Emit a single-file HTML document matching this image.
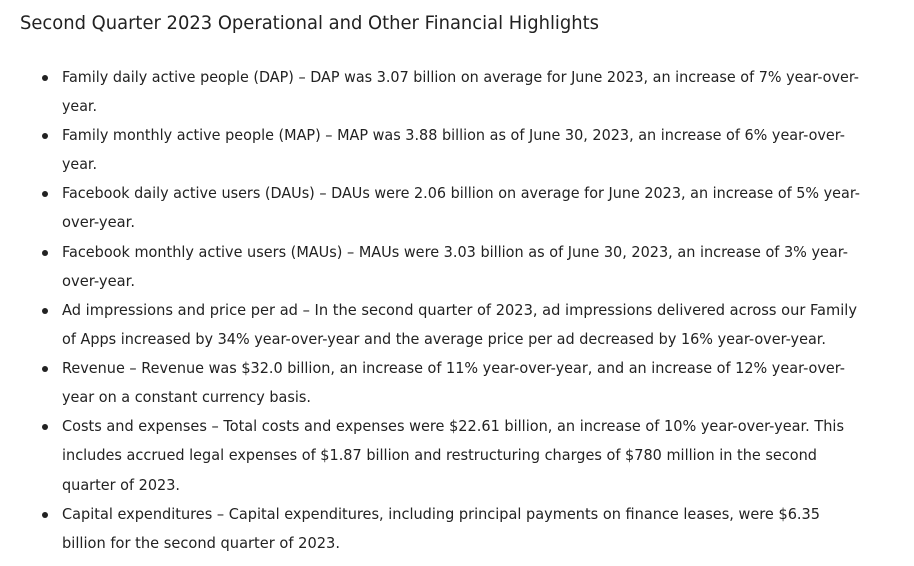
<!DOCTYPE html>
<html><head><meta charset="utf-8"><style>
html,body{margin:0;padding:0;background:#fff;width:914px;height:566px;overflow:hidden}
svg text{font-family:"DejaVu Sans","Liberation Sans",sans-serif;fill:#222}
</style></head><body>
<svg width="914" height="566" xmlns="http://www.w3.org/2000/svg">
<text x="20" y="29" font-size="19" textLength="579" lengthAdjust="spacingAndGlyphs">Second Quarter 2023 Operational and Other Financial Highlights</text>
<g font-size="15">
<g fill="#222">
<circle cx="45" cy="78" r="3"/><circle cx="45" cy="136" r="3"/><circle cx="45" cy="194" r="3"/><circle cx="45" cy="253" r="3"/>
<circle cx="45" cy="311" r="3"/><circle cx="45" cy="369" r="3"/><circle cx="45" cy="427" r="3"/><circle cx="45" cy="515" r="3"/>
</g>
<text x="62" y="82" textLength="797" lengthAdjust="spacingAndGlyphs">Family daily active people (DAP) – DAP was 3.07 billion on average for June 2023, an increase of 7% year-over-</text>
<text x="62" y="111" textLength="35" lengthAdjust="spacingAndGlyphs">year.</text>
<text x="62" y="140" textLength="783" lengthAdjust="spacingAndGlyphs">Family monthly active people (MAP) – MAP was 3.88 billion as of June 30, 2023, an increase of 6% year-over-</text>
<text x="62" y="169" textLength="35" lengthAdjust="spacingAndGlyphs">year.</text>
<text x="62" y="198" textLength="798" lengthAdjust="spacingAndGlyphs">Facebook daily active users (DAUs) – DAUs were 2.06 billion on average for June 2023, an increase of 5% year-</text>
<text x="62" y="227" textLength="73" lengthAdjust="spacingAndGlyphs">over-year.</text>
<text x="62" y="257" textLength="786" lengthAdjust="spacingAndGlyphs">Facebook monthly active users (MAUs) – MAUs were 3.03 billion as of June 30, 2023, an increase of 3% year-</text>
<text x="62" y="286" textLength="73" lengthAdjust="spacingAndGlyphs">over-year.</text>
<text x="62" y="315" textLength="795" lengthAdjust="spacingAndGlyphs">Ad impressions and price per ad – In the second quarter of 2023, ad impressions delivered across our Family</text>
<text x="62" y="344" textLength="764" lengthAdjust="spacingAndGlyphs">of Apps increased by 34% year-over-year and the average price per ad decreased by 16% year-over-year.</text>
<text x="62" y="373" textLength="783" lengthAdjust="spacingAndGlyphs">Revenue – Revenue was $32.0 billion, an increase of 11% year-over-year, and an increase of 12% year-over-</text>
<text x="62" y="402" textLength="249" lengthAdjust="spacingAndGlyphs">year on a constant currency basis.</text>
<text x="62" y="431" textLength="782" lengthAdjust="spacingAndGlyphs">Costs and expenses – Total costs and expenses were $22.61 billion, an increase of 10% year-over-year. This</text>
<text x="62" y="460" textLength="755" lengthAdjust="spacingAndGlyphs">includes accrued legal expenses of $1.87 billion and restructuring charges of $780 million in the second</text>
<text x="62" y="490" textLength="118" lengthAdjust="spacingAndGlyphs">quarter of 2023.</text>
<text x="62" y="519" textLength="758" lengthAdjust="spacingAndGlyphs">Capital expenditures – Capital expenditures, including principal payments on finance leases, were $6.35</text>
<text x="62" y="548" textLength="278" lengthAdjust="spacingAndGlyphs">billion for the second quarter of 2023.</text>
</g>
</svg>
</body></html>
